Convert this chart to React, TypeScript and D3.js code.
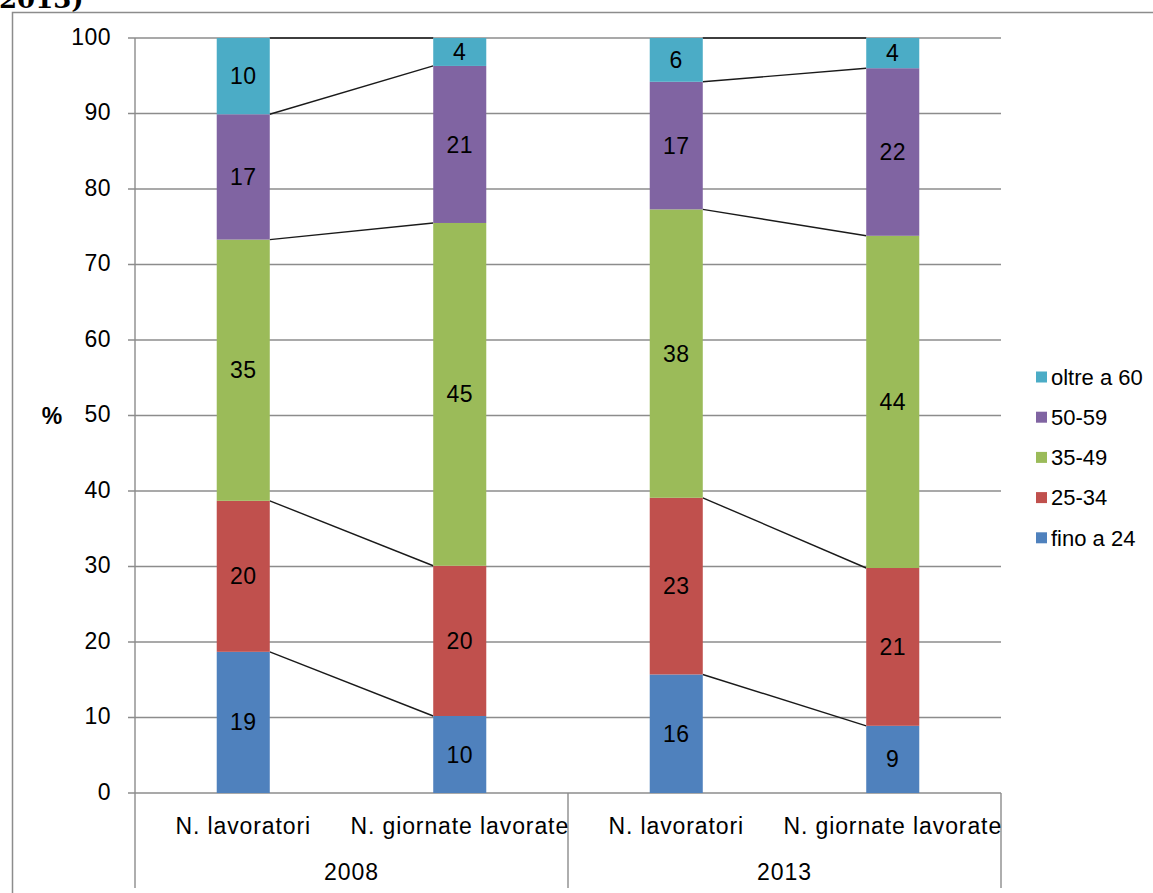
import React from "react";
import * as d3 from "d3";

// Age-class shares (%) of workers and worked days, 2008 vs 2013
const years = ["2008", "2013"];
const measures = ["N. lavoratori", "N. giornate lavorate"];
const ageClasses = ["fino a 24", "25-34", "35-49", "50-59", "oltre a 60"];
const classColors = ["#4F81BD", "#C0504D", "#9BBB59", "#8064A2", "#4BACC6"];

// one array per bar, ordered bottom to top like ageClasses
const lav2008 = [18.7, 20.0, 34.6, 16.6, 10.1];
const gio2008 = [10.2, 19.9, 45.4, 20.8, 3.7];
const lav2013 = [15.7, 23.4, 38.2, 16.9, 5.8];
const gio2013 = [8.9, 20.9, 44.0, 22.2, 4.0];
const barValues = [lav2008, gio2008, lav2013, gio2013];

const yTicks = [0, 10, 20, 30, 40, 50, 60, 70, 80, 90, 100];

const W = 1153;
const H = 893;
const plotLeft = 135;
const plotRight = 1001;
const plotTop = 38;
const plotBottom = 793;
const axisBottom = 888;

const FONT = "'Liberation Sans', Arial, sans-serif";
const GRID = "#8c8c8c";

export default function App() {
  const y = d3.scaleLinear().domain([0, 100]).range([plotBottom, plotTop]);
  const x = d3
    .scaleBand<number>()
    .domain(d3.range(barValues.length))
    .range([plotLeft, plotRight])
    .paddingInner(0)
    .paddingOuter(0);
  const barW = x.bandwidth() * 0.245;
  const group = d3
    .scaleBand<string>()
    .domain(years)
    .range([plotLeft, plotRight]);

  // cumulative stacking for each bar
  const stacks = barValues.map((vals) => {
    let acc = 0;
    return vals.map((v) => {
      const y0 = acc;
      acc += v;
      return { y0, y1: acc, v };
    });
  });

  const barCenter = (i: number) => (x(i) as number) + x.bandwidth() / 2;

  return (
    <svg
      width={W}
      height={H}
      style={{ position: "absolute", left: 0, top: 0, background: "#fff" }}
    >
      {/* caption fragment above the frame */}
      <text
        x={-1}
        y={8}
        fontFamily="'DejaVu Serif', serif"
        fontWeight="bold"
        fontSize={26}
        fill="#000"
      >
        2013)
      </text>

      {/* chart frame */}
      <rect
        x={12.5}
        y={12.5}
        width={1300}
        height={1000}
        fill="none"
        stroke={GRID}
        strokeWidth={1.5}
      />

      {/* horizontal gridlines with tick marks */}
      {yTicks.map((t) => (
        <g key={t}>
          <line
            x1={plotLeft - 7}
            x2={plotRight}
            y1={y(t)}
            y2={y(t)}
            stroke={GRID}
            strokeWidth={1.4}
          />
          <text
            x={111}
            y={y(t)}
            dy="0.3em"
            textAnchor="end"
            fontFamily={FONT}
            fontSize={23}
            letterSpacing={0.5}
            fill="#000"
          >
            {t}
          </text>
        </g>
      ))}

      {/* value axis line, extended down through the category area */}
      <line
        x1={plotLeft}
        x2={plotLeft}
        y1={plotTop}
        y2={axisBottom}
        stroke={GRID}
        strokeWidth={1.4}
      />
      {/* group separators on the category axis */}
      {years.map((yr) => {
        const gx = (group(yr) as number) + group.bandwidth();
        return (
          <line
            key={yr}
            x1={gx}
            x2={gx}
            y1={plotBottom}
            y2={axisBottom}
            stroke={GRID}
            strokeWidth={1.4}
          />
        );
      })}

      <text
        x={52}
        y={y(50)}
        dy="0.35em"
        textAnchor="middle"
        fontFamily={FONT}
        fontWeight="bold"
        fontSize={23}
        fill="#000"
      >
        %
      </text>

      {/* series lines joining segment tops inside each year */}
      {years.map((yr, g) => {
        const a = g * 2;
        const b = a + 1;
        const xa = barCenter(a) + barW / 2;
        const xb = barCenter(b) - barW / 2;
        return stacks[a].map((seg, k) => (
          <line
            key={`${yr}-${k}`}
            x1={xa}
            x2={xb}
            y1={y(seg.y1)}
            y2={y(stacks[b][k].y1)}
            stroke="#1a1a1a"
            strokeWidth={1.4}
          />
        ));
      })}

      {/* stacked bars */}
      {stacks.map((segs, i) => (
        <g key={i}>
          {segs.map((s, k) => (
            <rect
              key={k}
              x={barCenter(i) - barW / 2}
              y={y(s.y1)}
              width={barW}
              height={y(s.y0) - y(s.y1)}
              fill={classColors[k]}
            />
          ))}
          {segs.map((s, k) => (
            <text
              key={`t${k}`}
              x={barCenter(i)}
              y={(y(s.y0) + y(s.y1)) / 2}
              dy="0.35em"
              textAnchor="middle"
              fontFamily={FONT}
              fontSize={23}
              letterSpacing={0.5}
              fill="#000"
            >
              {d3.format(".0f")(s.v)}
            </text>
          ))}
        </g>
      ))}

      {/* category labels */}
      {barValues.map((_, i) => (
        <text
          key={`c${i}`}
          x={barCenter(i)}
          y={834}
          textAnchor="middle"
          fontFamily={FONT}
          fontSize={23}
          letterSpacing={0.9}
          fill="#000"
        >
          {measures[i % 2]}
        </text>
      ))}
      {years.map((yr) => (
        <text
          key={`y${yr}`}
          x={(group(yr) as number) + group.bandwidth() / 2}
          y={880}
          textAnchor="middle"
          fontFamily={FONT}
          fontSize={23}
          letterSpacing={0.9}
          fill="#000"
        >
          {yr}
        </text>
      ))}

      {/* legend, top entry is the last age class */}
      {ageClasses
        .map((c, k) => ({ c, k }))
        .reverse()
        .map(({ c, k }, row) => {
          const cy = 377 + row * 40.2;
          return (
            <g key={c}>
              <rect
                x={1036}
                y={cy - 5.5}
                width={11}
                height={11}
                fill={classColors[k]}
              />
              <text
                x={1051}
                y={cy}
                dy="0.35em"
                fontFamily={FONT}
                fontSize={22}
                fill="#000"
              >
                {c}
              </text>
            </g>
          );
        })}
    </svg>
  );
}
